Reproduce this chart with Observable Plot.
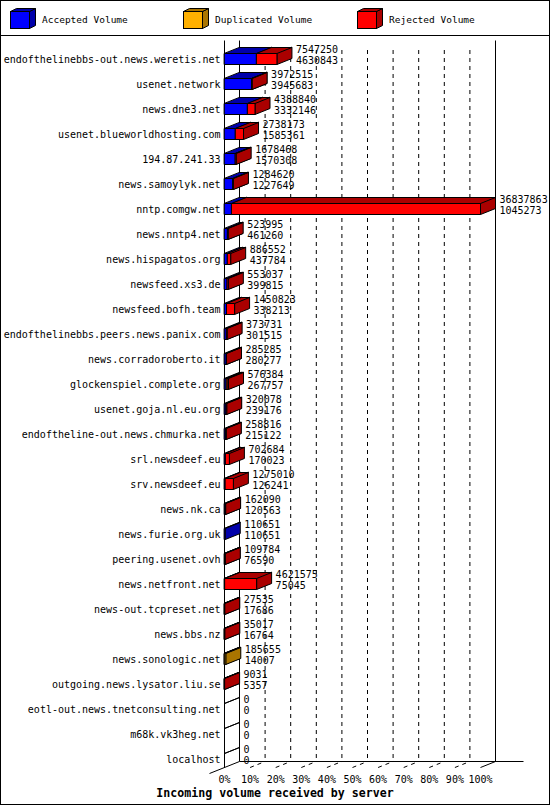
<!DOCTYPE html>
<html>
<head>
<meta charset="utf-8">
<script src="https://cdn.jsdelivr.net/npm/d3@7"></script>
<script src="https://cdn.jsdelivr.net/npm/@observablehq/plot@0.6"></script>
<style>
  body { margin: 0; background: white; }
  #wrap { position: relative; width: 550px; height: 805px; box-sizing: border-box; border: 1px solid black; background: white; }
  #legend { position: relative; height: 34px; border-bottom: 1px solid black; font: 9.5px "DejaVu Sans Mono", monospace; }
  #legend .cube { position: absolute; top: 7px; }
  #legend .lab { position: absolute; top: 13px; line-height: 12px; white-space: nowrap; }
  #chart svg { display: block; }
  #title { height: 18px; line-height: 13px; text-align: center; font: bold 11.6px "DejaVu Sans Mono", monospace; }
</style>
</head>
<body>
<div id="wrap">
  <div id="legend"></div>
  <div id="chart"></div>
  <div id="title">Incoming volume received by server</div>
</div>
<script>
// servidores y volumenes (bytes)
const servers = [
  'endofthelinebbs-out.news.weretis.net', 'usenet.network', 'news.dne3.net',
  'usenet.blueworldhosting.com', '194.87.241.33', 'news.samoylyk.net',
  'nntp.comgw.net', 'news.nntp4.net', 'news.hispagatos.org', 'newsfeed.xs3.de',
  'newsfeed.bofh.team', 'endofthelinebbs.peers.news.panix.com',
  'news.corradoroberto.it', 'glockenspiel.complete.org', 'usenet.goja.nl.eu.org',
  'endoftheline-out.news.chmurka.net', 'srl.newsdeef.eu', 'srv.newsdeef.eu',
  'news.nk.ca', 'news.furie.org.uk', 'peering.usenet.ovh', 'news.netfront.net',
  'news-out.tcpreset.net', 'news.bbs.nz', 'news.sonologic.net',
  'outgoing.news.lysator.liu.se', 'eotl-out.news.tnetconsulting.net',
  'm68k.vk3heg.net', 'localhost',
]
const totalVolume = [
  7547250, 3972515, 4388840, 2738173, 1678468, 1284620, 36837863, 523995,
  886552, 553037, 1450823, 373731, 285285, 576384, 320078, 258816, 702684,
  1275010, 162090, 110651, 109784, 4621575, 27535, 35017, 185655, 9031, 0, 0, 0,
]
const acceptedVolume = [
  4630843, 3945683, 3332146, 1585361, 1570308, 1227649, 1045273, 461260,
  437784, 399815, 338213, 301515, 280277, 267757, 239176, 215122, 170023,
  126241, 120563, 110651, 76590, 75045, 17686, 16764, 14007, 5357, 0, 0, 0,
]
// estimado: solo se ve volumen duplicado en dos servidores
const duplicatedVolume = [
  0, 0, 0, 0, 0, 0, 0, 0, 0, 0, 0, 0, 0, 150000, 0, 0, 0,
  0, 0, 0, 0, 0, 0, 0, 171648, 0, 0, 0, 0,
]
const rejectedVolume = totalVolume.map((t, i) => t - acceptedVolume[i] - duplicatedVolume[i])
const xTicks = [0, 10, 20, 30, 40, 50, 60, 70, 80, 90, 100]

const series = [
  { name: 'Accepted Volume', values: acceptedVolume, front: '#0000ff', dark: '#0000aa' },
  { name: 'Duplicated Volume', values: duplicatedVolume, front: '#ffb000', dark: '#aa7500' },
  { name: 'Rejected Volume', values: rejectedVolume, front: '#ff0000', dark: '#aa0000' },
]

// leyenda con cubos
const legend = d3.select('#legend')
const legendX = [9, 182, 356]
series.forEach((s, k) => {
  const svg = legend.append('svg').attr('class', 'cube')
    .attr('width', 28).attr('height', 22).style('left', legendX[k] + 'px')
  const g = svg.append('g').attr('transform', 'translate(0.5,0.5)')
    .attr('stroke', 'black').attr('stroke-linejoin', 'miter')
  g.append('polygon').attr('points', '19,3 25,0 25,17 19,20').attr('fill', s.dark)
  g.append('polygon').attr('points', '0,3 6,0 25,0 19,3').attr('fill', s.dark)
  g.append('rect').attr('x', 0).attr('y', 3).attr('width', 19).attr('height', 17).attr('fill', s.front)
  legend.append('div').attr('class', 'lab').style('left', (legendX[k] + 32) + 'px').text(s.name)
})

// geometria 3D (pixeles -> unidades de escala)
const xRange = [223, 479]
const yRange = [23, 723]
const pxPerPct = (xRange[1] - xRange[0]) / 100
const pxPerRow = (yRange[1] - yRange[0]) / (servers.length - 1)
const DX = 15 / pxPerPct
const DY = -6 / pxPerRow
const frontTop = 6 / pxPerRow
const frontBottom = 5 / pxPerRow
const frameTop = 4, frameBottom = 725
const wallTop = (frameTop - yRange[0]) / pxPerRow
const gridTop = (frameTop + 10 - yRange[0]) / pxPerRow
const floorBack = (frameBottom - yRange[0]) / pxPerRow
const floorFront = floorBack - DY

const maxTotal = d3.max(totalVolume)
const pct = v => v / maxTotal * 100

// caras de cada caja: lateral, superior, frontal
const faces = []
const addFace = (id, fill, pts) => pts.forEach(([x, y]) => faces.push({ id, fill, x, y }))
servers.forEach((s, i) => {
  const top = i - frontTop
  const bot = i + frontBottom
  if (totalVolume[i] === 0) {
    addFace(`${i}-edge`, 'none', [[0, top], [DX, top + DY]])
    return
  }
  let acc = 0
  series.forEach((ser, k) => {
    const v = ser.values[i]
    if (!v) return
    const a = pct(acc), b = pct(acc + v)
    acc += v
    addFace(`${i}-${k}-side`, ser.dark, [[b, top], [b, bot], [b + DX, bot + DY], [b + DX, top + DY]])
    addFace(`${i}-${k}-top`, ser.dark, [[a, top], [b, top], [b + DX, top + DY], [a + DX, top + DY]])
    addFace(`${i}-${k}-front`, ser.front, [[a, top], [b, top], [b, bot], [a, bot]])
  })
})

const rows = servers.map((s, i) => ({ i, total: totalVolume[i], accepted: acceptedVolume[i] }))

// paredes y suelo
const walls = [
  { x1: 0, y1: wallTop, x2: 0, y2: floorFront },
  { x1: DX, y1: wallTop, x2: DX, y2: floorBack },
  { x1: 100 + DX, y1: wallTop, x2: 100 + DX, y2: floorBack },
  { x1: DX, y1: floorBack, x2: 100 + DX + 28 / pxPerPct, y2: floorBack },
  { x1: -DX, y1: floorBack - 2 * DY, x2: DX, y2: floorBack },
  { x1: 100, y1: floorFront, x2: 100 + DX, y2: floorBack },
]
const inner = xTicks.slice(1, -1)

let chart = Plot.plot({
  width: 548,
  height: 750,
  marginLeft: xRange[0],
  marginRight: 548 - xRange[1],
  marginTop: frameTop,
  marginBottom: 750 - frameBottom,
  style: { fontFamily: "'DejaVu Sans Mono', monospace", fontSize: '10px', color: 'black', background: 'white', overflow: 'visible' },
  x: { domain: [0, 100], range: xRange },
  y: { domain: [0, servers.length - 1], range: yRange },
  color: { type: 'identity' },
  marks: [
    Plot.ruleX(inner, { x: d => d + DX, y1: gridTop, y2: floorBack, stroke: 'black', strokeDasharray: '4,4' }),
    Plot.link(inner, { x1: d => d, y1: floorFront, x2: d => d + DX, y2: floorBack, stroke: 'black', strokeDasharray: '4,4' }),
    Plot.link(walls, { x1: 'x1', y1: 'y1', x2: 'x2', y2: 'y2', stroke: 'black', strokeWidth: 1 }),
    Plot.line(faces, {
      x: 'x', y: 'y', z: 'id', fill: 'fill',
      curve: 'linear-closed', stroke: 'black', strokeWidth: 1, strokeLinejoin: 'miter',
    }),
    Plot.text(rows, { x: d => pct(d.total) + DX, y: d => d.i - 10 / pxPerRow, text: d => String(d.total), textAnchor: 'start', dx: 4 }),
    Plot.text(rows, { x: d => pct(d.total) + DX, y: d => d.i + 1.5 / pxPerRow, text: d => String(d.accepted), textAnchor: 'start', dx: 4 }),
    Plot.axisY({ ticks: d3.range(servers.length), tickFormat: i => servers[i], tickSize: 0, tickPadding: 4, label: null }),
    Plot.axisX({ ticks: xTicks, tickFormat: d => d + '%', tickSize: 0, tickPadding: 14, label: null }),
  ],
})

d3.select('#chart').append(() => chart)
</script>
</body>
</html>
